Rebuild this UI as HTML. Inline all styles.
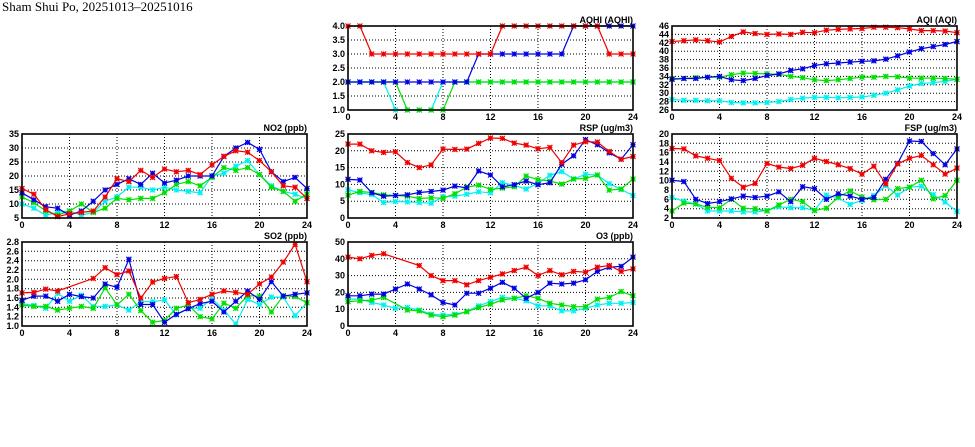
<!DOCTYPE html>
<html><head><meta charset="utf-8"><style>
body{margin:0;background:#fff;width:975px;height:447px;overflow:hidden}
svg{display:block}
text{font-family:"Liberation Sans",sans-serif;font-weight:bold;font-size:9px;fill:#000}
</style></head><body>
<svg id="s" width="975" height="447" xmlns="http://www.w3.org/2000/svg">
<text x="2" y="11" style="font-family:'Liberation Serif',serif;font-size:13px;font-weight:normal">Sham Shui Po, 20251013–20251016</text>
</svg>
<script>
var N=null;
var P=[
{t:"AQHI (AQHI)",x:348,y:26,min:1,max:4,st:0.5,dec:1,d:[
[2,2,2,2,1,1,1,1,2,2,2,2,2,2,2,2,2,2,2,2,2,2,2,2,2],
[2,2,2,2,2,1,1,1,1,2,2,2,2,2,2,2,2,2,2,2,2,2,2,2,2],
[2,2,2,2,2,2,2,2,2,2,2,3,3,3,3,3,3,3,3,4,4,4,4,4,4],
[4,4,3,3,3,3,3,3,3,3,3,3,3,4,4,4,4,4,4,4,4,4,3,3,3]]},
{t:"AQI (AQI)",x:672,y:26,min:26,max:46,st:2,dec:0,d:[
[28.5,28.3,28.3,28.2,28.2,27.8,27.7,27.7,27.8,28,28.5,28.8,29,29,28.9,29,29.1,29.5,30,30.8,31.7,32.3,32.5,32.8,33.3],
[33.5,33.5,33.7,33.8,33.8,34.4,34.8,34.7,34.6,34.5,34,33.7,33.2,33,33.2,33.5,33.8,33.8,34,33.9,33.6,33.6,33.6,33.5,33.3],
[33.3,33.5,33.5,33.8,34,33.2,33,33.5,34.2,34.6,35.4,35.8,36.6,37,37.2,37.4,37.6,37.7,38.1,38.9,39.8,40.6,41.1,41.6,42.3],
[42.3,42.5,42.7,42.5,42.2,43.5,44.6,44.2,44,44.1,44,44.5,44.4,45,45.2,45.3,45.4,45.7,45.7,45.6,45.3,44.9,44.9,44.8,44.4]]},
{t:"NO2 (ppb)",x:22,y:134,min:5,max:35,st:5,dec:0,d:[
[10,8.5,6,7,7.5,6,7,11,12.5,16,16,15,16,15,14.5,14,20,21,23.5,25.5,20.5,16.5,14.5,13.5,12],
[12.5,10.5,7.5,6,7.5,10,7,8.5,12,11.5,12,12,14,17,18,16.5,19.5,23,22,23,20.5,16,14.5,11,13.5],
[14,11.5,9,8.5,6,7.5,11,15,17,19,17,21,17.5,18.5,20,20,20,27,30,32,29.5,21.5,18,19.5,15.5],
[15.5,13.5,8,5.5,6.5,7,7.5,12.5,19,18,22,19.5,22.5,21.5,22,20.5,24,27,29,28.5,25.5,21.5,16.5,16,12]]},
{t:"RSP (ug/m3)",x:348,y:134,min:0,max:25,st:5,dec:0,d:[
[8.4,7.5,7,4.6,4.9,4.8,4.6,4.4,6.3,6.5,7.1,7.8,7.5,10.5,9.7,8.6,10.3,12.7,13.8,11.6,13,12.8,10.2,8.5,6.7],
[6.8,7.9,7.6,6.9,6.7,6.5,5.8,6,5.9,7.2,9.2,9.8,8.5,8.9,9.3,12.5,11.4,11,10.1,11.6,11.8,12.8,8.3,8.6,11.6],
[11.5,11.3,7.5,6.5,6.7,6.9,7.6,7.9,8.3,9.5,9,14,12.8,9.3,9.9,11,9.9,10.5,16,18.5,23.3,21.8,19.4,17.5,21.8],
[22,22,20,19.5,19.7,16.5,15,15.8,20.5,20.4,20.5,22.2,23.8,23.7,22.3,21.7,20.6,21,16.5,21.7,22.7,22.6,19.8,17.5,18.3]]},
{t:"FSP (ug/m3)",x:672,y:134,min:2,max:20,st:2,dec:0,d:[
[6.4,5.6,5,3.5,3.5,3.5,3.3,3.3,3.6,4.4,4.2,4.2,3.6,6.9,6.3,4.9,5.8,6.8,8.9,6.9,8.6,8.8,7,5.4,3.4],
[3.5,5.2,5,4.3,4.2,6,4.1,4,3.5,4.8,6,5.5,3.6,4.1,6.5,7.8,6.5,5.9,6,8.3,8.6,10.1,6.1,6.8,10.1],
[10.1,9.8,6,5.1,5.5,6.1,6.7,6.4,6.7,7.6,5.5,8.7,8.3,6,7.2,6.7,6,6.4,10.3,13.7,18.5,18.4,15.8,13.4,16.8],
[16.9,16.8,15.3,14.8,14.3,10.5,8.6,9.4,13.7,12.9,12.6,13.3,14.8,14.1,13.4,12.6,11.4,13.1,9.3,13.6,14.8,15.4,13.4,11.4,12.7]]},
{t:"SO2 (ppb)",x:22,y:242,min:1,max:2.8,st:0.2,dec:1,d:[
[1.48,1.44,1.38,1.7,1.53,1.66,1.42,1.42,1.45,1.34,1.52,1.52,1.56,1.24,1.38,1.38,1.58,1.34,1.04,1.57,1.46,1.62,1.62,1.22,1.5],
[1.45,1.42,1.42,1.34,1.38,1.42,1.38,1.82,1.45,1.68,1.33,1.08,1.12,1.38,1.45,1.2,1.15,1.49,1.38,1.65,1.64,1.3,1.65,1.63,1.5],
[1.55,1.64,1.64,1.53,1.68,1.63,1.6,1.9,1.83,2.43,1.46,1.46,1.08,1.25,1.37,1.48,1.53,1.3,1.53,1.75,1.57,1.95,1.64,1.68,1.71],
[1.71,1.72,1.79,1.75,N,N,2.02,2.25,2.1,2.18,1.6,1.94,2.02,2.06,1.5,1.57,1.68,1.75,1.72,1.68,1.9,2.05,2.37,2.75,1.95]]},
{t:"O3 (ppb)",x:348,y:242,min:0,max:50,st:10,dec:0,d:[
[16,16,14,12.5,10.5,11,9.5,7,6.5,7,8.5,12,14.5,17,16.5,15,12,12,9,9,10.5,12.5,13.5,13.5,14],
[14.5,15,15.5,17,N,9.5,9,6.5,5.5,6.5,8.5,11,13,15.5,16.5,18,16.5,13.5,12.5,11.5,11.5,16,17,20.5,18],
[18,18,19,19,22,25,22,18.5,14,12.5,19.5,19.5,22.5,26,22.5,16.5,20,25.5,25,25.5,27.5,32.5,35,35.5,41],
[41,40,42,43,N,N,36,30,27,27,24.5,27,29,31,33,35,30,33,30.5,32.5,32,35,36,32.5,34]]}
];
var C=["#00f0f0","#00e000","#0000e0","#f00000"];
var W=285,H=84,h="";
P.forEach(function(p){
 var X=function(i){return p.x+i*W/24},Y=function(v){return p.y+H-(v-p.min)/(p.max-p.min)*H};
 var n=Math.round((p.max-p.min)/p.st);
 for(var k=1;k<n;k++){var yy=Y(p.min+k*p.st).toFixed(1);h+='<line x1="'+p.x+'" x2="'+(p.x+W)+'" y1="'+yy+'" y2="'+yy+'" stroke="#000" stroke-width="1" stroke-dasharray="1,2"/>';}
 for(var k=4;k<24;k+=4){var xx=X(k).toFixed(1);h+='<line x1="'+xx+'" x2="'+xx+'" y1="'+p.y+'" y2="'+(p.y+H)+'" stroke="#000" stroke-width="1" stroke-dasharray="1,2"/>';}
 for(var k=0;k<=n;k++){var v=p.min+k*p.st;h+='<text x="'+(p.x-3)+'" y="'+(Y(v)+3)+'" text-anchor="end">'+v.toFixed(p.dec)+'</text>';}
 for(var k=0;k<=24;k+=4){h+='<text x="'+X(k)+'" y="'+(p.y+H+10)+'" text-anchor="middle">'+k+'</text>';}
 h+='<text x="'+(p.x+W)+'" y="'+(p.y-3)+'" text-anchor="end">'+p.t+'</text>';
 h+='<svg x="'+(p.x-4)+'" y="'+(p.y-4)+'" width="'+(W+8)+'" height="'+(H+8)+'" overflow="hidden"><g transform="translate('+(4-p.x)+','+(4-p.y)+')">';
 p.d.forEach(function(s,si){
  var pts=[];s.forEach(function(v,i){if(v!==null)pts.push(X(i).toFixed(1)+','+Y(v).toFixed(1))});
  h+='<polyline points="'+pts.join(' ')+'" fill="none" stroke="'+C[si]+'" stroke-width="1.2"/>';
  s.forEach(function(v,i){if(v===null)return;var a=X(i),b=Y(v),r=2.5;
   h+='<path d="M'+(a-r)+','+(b-r)+'L'+(a+r)+','+(b+r)+'M'+(a-r)+','+(b+r)+'L'+(a+r)+','+(b-r)+'M'+(a-r)+','+b+'L'+(a+r)+','+b+'M'+a+','+(b-r)+'L'+a+','+(b+r)+'" stroke="'+C[si]+'" stroke-width="1.2" fill="none"/>';
   h+='<rect x="'+(a-2)+'" y="'+(b-2)+'" width="4" height="4" fill="'+C[si]+'" opacity="0.35"/>';});
 });
 h+='</g></svg>';
 h+='<rect x="'+p.x+'" y="'+p.y+'" width="'+W+'" height="'+H+'" fill="none" stroke="#000" stroke-width="1.6"/>';
});
document.getElementById("s").insertAdjacentHTML("beforeend",h);
</script>
</body></html>
